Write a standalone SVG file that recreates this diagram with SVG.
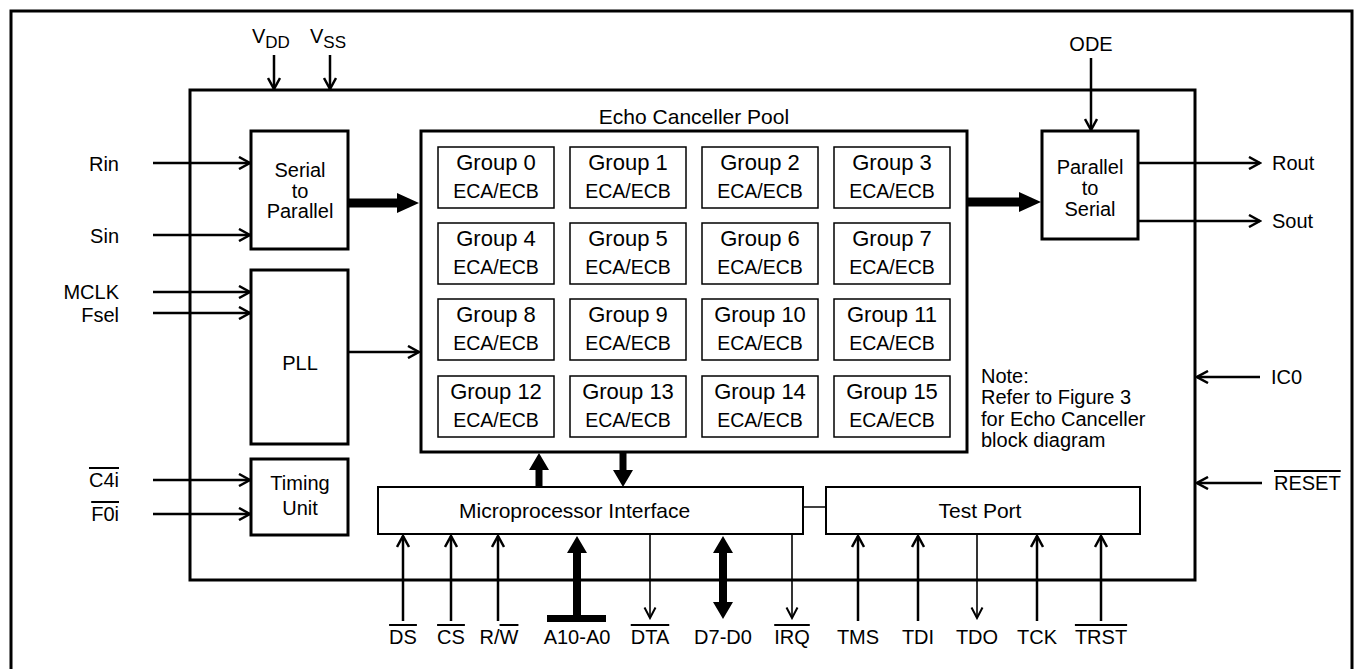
<svg xmlns="http://www.w3.org/2000/svg" width="1358" height="669" viewBox="0 0 1358 669">
<style>
text{font-family:"Liberation Sans",Arial,sans-serif;font-size:20px;fill:#000}
.c{text-anchor:middle}
.e{text-anchor:end}
.g{font-size:22px;text-anchor:middle}
.s{font-size:19.5px;text-anchor:middle}
.ov{text-decoration:overline}
.box{fill:#fff;stroke:#000;stroke-width:3}
.gb{fill:#fff;stroke:#000;stroke-width:1.5}
.tb{fill:#fff;stroke:#000;stroke-width:2}
.w{fill:none;stroke:#000;stroke-width:2.5;marker-end:url(#ah)}
.t{fill:none;stroke:#000;stroke-width:1.6;marker-end:url(#at)}
.k{fill:#000;stroke:none}
</style>
<defs>
<marker id="ah" markerUnits="userSpaceOnUse" viewBox="0 0 14 14" markerWidth="14" markerHeight="14" refX="12.5" refY="7" orient="auto">
<path d="M1.5,1 L12.5,7 L1.5,13" fill="none" stroke="#000" stroke-width="2.5"/>
</marker>
<marker id="at" markerUnits="userSpaceOnUse" viewBox="0 0 14 14" markerWidth="14" markerHeight="14" refX="12.5" refY="7" orient="auto">
<path d="M2,1.5 L12.5,7 L2,12.5" fill="none" stroke="#000" stroke-width="2"/>
</marker>
</defs>
<rect x="0" y="0" width="1358" height="669" fill="#fff"/>
<path d="M11,680 V11 H1352 V680" fill="none" stroke="#000" stroke-width="3"/>
<g id="chip"><rect x="190" y="90" width="1005" height="490" fill="none" stroke="#000" stroke-width="3"/></g>

<g id="serial-to-parallel">
<rect class="box" x="251" y="131" width="97" height="118"/>
<text class="c" x="300" y="177">Serial</text>
<text class="c" x="300" y="198">to</text>
<text class="c" x="300" y="218">Parallel</text>
</g>
<g id="pll">
<rect class="box" x="251" y="270" width="97" height="174"/>
<text class="c" x="300" y="370">PLL</text>
</g>
<g id="timing-unit">
<rect class="box" x="251" y="459" width="97" height="76"/>
<text class="c" x="300" y="490">Timing</text>
<text class="c" x="300" y="515">Unit</text>
</g>
<g id="parallel-to-serial">
<rect class="box" x="1042" y="131" width="96" height="108"/>
<text class="c" x="1090" y="174">Parallel</text>
<text class="c" x="1090" y="195">to</text>
<text class="c" x="1090" y="216">Serial</text>
</g>
<g id="echo-canceller-pool">
<text class="c" x="694" y="124" style="font-size:21px">Echo Canceller Pool</text>
<rect class="box" x="421" y="131" width="546" height="321"/>
</g>
<g id="group-0"><rect class="gb" x="438" y="147" width="116" height="61"/><text class="g" x="496" y="170">Group 0</text><text class="s" x="496" y="198">ECA/ECB</text></g>
<g id="group-1"><rect class="gb" x="570" y="147" width="116" height="61"/><text class="g" x="628" y="170">Group 1</text><text class="s" x="628" y="198">ECA/ECB</text></g>
<g id="group-2"><rect class="gb" x="702" y="147" width="116" height="61"/><text class="g" x="760" y="170">Group 2</text><text class="s" x="760" y="198">ECA/ECB</text></g>
<g id="group-3"><rect class="gb" x="834" y="147" width="116" height="61"/><text class="g" x="892" y="170">Group 3</text><text class="s" x="892" y="198">ECA/ECB</text></g>
<g id="group-4"><rect class="gb" x="438" y="223" width="116" height="61"/><text class="g" x="496" y="246">Group 4</text><text class="s" x="496" y="274">ECA/ECB</text></g>
<g id="group-5"><rect class="gb" x="570" y="223" width="116" height="61"/><text class="g" x="628" y="246">Group 5</text><text class="s" x="628" y="274">ECA/ECB</text></g>
<g id="group-6"><rect class="gb" x="702" y="223" width="116" height="61"/><text class="g" x="760" y="246">Group 6</text><text class="s" x="760" y="274">ECA/ECB</text></g>
<g id="group-7"><rect class="gb" x="834" y="223" width="116" height="61"/><text class="g" x="892" y="246">Group 7</text><text class="s" x="892" y="274">ECA/ECB</text></g>
<g id="group-8"><rect class="gb" x="438" y="299" width="116" height="61"/><text class="g" x="496" y="322">Group 8</text><text class="s" x="496" y="350">ECA/ECB</text></g>
<g id="group-9"><rect class="gb" x="570" y="299" width="116" height="61"/><text class="g" x="628" y="322">Group 9</text><text class="s" x="628" y="350">ECA/ECB</text></g>
<g id="group-10"><rect class="gb" x="702" y="299" width="116" height="61"/><text class="g" x="760" y="322">Group 10</text><text class="s" x="760" y="350">ECA/ECB</text></g>
<g id="group-11"><rect class="gb" x="834" y="299" width="116" height="61"/><text class="g" x="892" y="322">Group 11</text><text class="s" x="892" y="350">ECA/ECB</text></g>
<g id="group-12"><rect class="gb" x="438" y="376" width="116" height="61"/><text class="g" x="496" y="399">Group 12</text><text class="s" x="496" y="427">ECA/ECB</text></g>
<g id="group-13"><rect class="gb" x="570" y="376" width="116" height="61"/><text class="g" x="628" y="399">Group 13</text><text class="s" x="628" y="427">ECA/ECB</text></g>
<g id="group-14"><rect class="gb" x="702" y="376" width="116" height="61"/><text class="g" x="760" y="399">Group 14</text><text class="s" x="760" y="427">ECA/ECB</text></g>
<g id="group-15"><rect class="gb" x="834" y="376" width="116" height="61"/><text class="g" x="892" y="399">Group 15</text><text class="s" x="892" y="427">ECA/ECB</text></g>
<g id="note">
<text x="981" y="383">Note:</text>
<text x="981" y="404">Refer to Figure 3</text>
<text x="981" y="426">for Echo Canceller</text>
<text x="981" y="447">block diagram</text>
</g>
<g id="microprocessor-interface">
<rect class="tb" x="378" y="487" width="425" height="47"/>
<text x="459" y="518" style="font-size:21px">Microprocessor Interface</text>
</g>
<g id="test-port">
<rect class="tb" x="826" y="487" width="314" height="47"/>
<text class="c" x="980" y="518" style="font-size:21px">Test Port</text>
</g>

<g id="labels">
<text x="252" y="43">V<tspan font-size="17" dy="5">DD</tspan></text>
<text x="310" y="43">V<tspan font-size="17" dy="5">SS</tspan></text>
<text class="c" x="1091" y="51">ODE</text>
<text class="e" x="119" y="171">Rin</text>
<text class="e" x="119" y="243">Sin</text>
<text class="e" x="119" y="299">MCLK</text>
<text class="e" x="119" y="322">Fsel</text>
<text class="e" x="119" y="487"><tspan class="ov">C4i</tspan></text>
<text class="e" x="119" y="521"><tspan class="ov">F0i</tspan></text>
<text x="1272" y="170">Rout</text>
<text x="1272" y="228">Sout</text>
<text x="1271" y="384">IC0</text>
<text x="1274" y="490"><tspan class="ov">RESET</tspan></text>
<text class="c" x="403" y="644"><tspan class="ov">DS</tspan></text>
<text class="c" x="451" y="644"><tspan class="ov">CS</tspan></text>
<text class="c" x="499" y="644">R/<tspan class="ov">W</tspan></text>
<text class="c" x="577" y="644">A10-A0</text>
<text class="c" x="650" y="644"><tspan class="ov">DTA</tspan></text>
<text class="c" x="723" y="644">D7-D0</text>
<text class="c" x="792" y="644"><tspan class="ov">IRQ</tspan></text>
<text class="c" x="858" y="644">TMS</text>
<text class="c" x="918" y="644">TDI</text>
<text class="c" x="977" y="644">TDO</text>
<text class="c" x="1037" y="644">TCK</text>
<text class="c" x="1101" y="644"><tspan class="ov">TRST</tspan></text>
</g>

<g id="connectors">
<line class="w" x1="274" y1="55" x2="274" y2="89"/>
<line class="w" x1="330" y1="55" x2="330" y2="89"/>
<line class="w" x1="1091" y1="58" x2="1091" y2="130"/>
<line class="w" x1="153" y1="163" x2="250" y2="163"/>
<line class="w" x1="153" y1="235" x2="250" y2="235"/>
<line class="w" x1="153" y1="292" x2="250" y2="292"/>
<line class="w" x1="153" y1="313" x2="250" y2="313"/>
<line class="w" x1="153" y1="480" x2="250" y2="480"/>
<line class="w" x1="153" y1="514" x2="250" y2="514"/>
<line class="w" x1="349" y1="352" x2="419" y2="352"/>
<line class="w" x1="1139" y1="163" x2="1260" y2="163"/>
<line class="w" x1="1139" y1="221" x2="1260" y2="221"/>
<line class="w" x1="1260" y1="377" x2="1197" y2="377"/>
<line class="w" x1="1262" y1="483" x2="1197" y2="483"/>
<polygon class="k" points="349,198.5 397,198.5 397,193 419,203 397,213 397,207.5 349,207.5"/>
<polygon class="k" points="968,197.5 1019,197.5 1019,192 1041,202 1019,212 1019,206.5 968,206.5"/>
<polygon class="k" points="535.5,487 535.5,470 529,470 539,453 549,470 542.5,470 542.5,487"/>
<polygon class="k" points="619.5,452 619.5,470 613,470 623,487 633,470 626.5,470 626.5,452"/>
<line x1="803" y1="507" x2="826" y2="507" stroke="#000" stroke-width="1.5"/>
<line class="w" x1="403" y1="621" x2="403" y2="536"/>
<line class="w" x1="451" y1="621" x2="451" y2="536"/>
<line class="w" x1="498" y1="621" x2="498" y2="536"/>
<polygon class="k" points="573,619 573,553 567,553 577,536 587,553 581,553 581,619"/>
<rect class="k" x="547" y="615" width="59" height="7"/>
<line class="t" x1="650" y1="535" x2="650" y2="618"/>
<polygon class="k" points="723,536 733,553 727,553 727,602 733,602 723,619 713,602 719,602 719,553 713,553"/>
<line class="t" x1="792" y1="535" x2="792" y2="618"/>
<line class="w" x1="858" y1="621" x2="858" y2="536"/>
<line class="w" x1="918" y1="621" x2="918" y2="536"/>
<line class="t" x1="977" y1="535" x2="977" y2="618"/>
<line class="w" x1="1037" y1="621" x2="1037" y2="536"/>
<line class="w" x1="1101" y1="621" x2="1101" y2="536"/>
</g>
</svg>
